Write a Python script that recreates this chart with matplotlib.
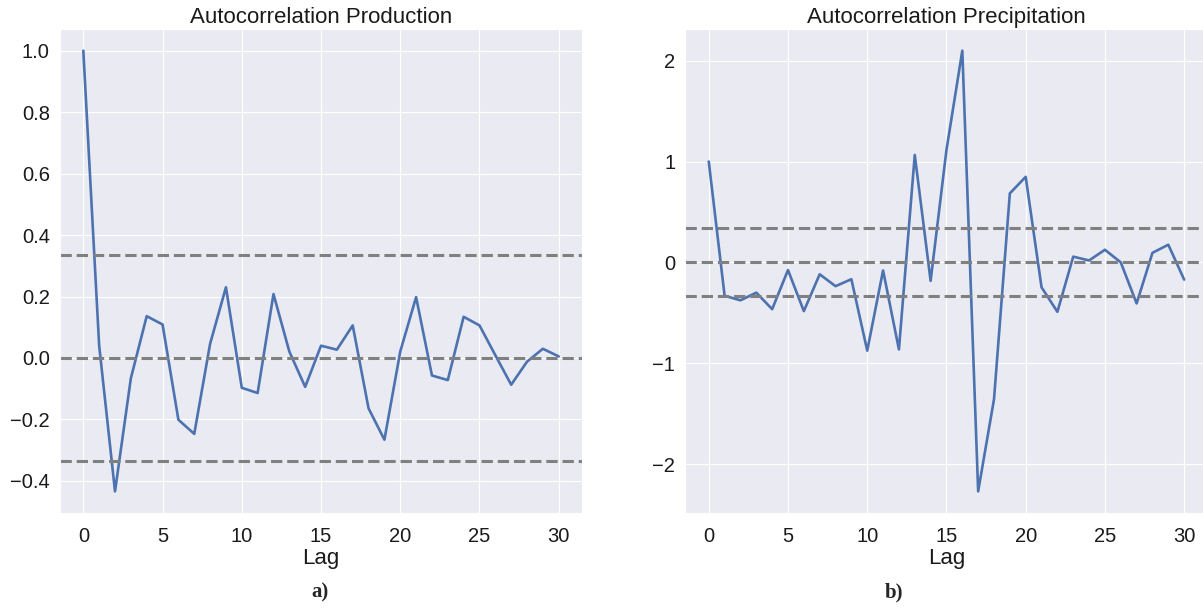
import matplotlib
matplotlib.use('Agg')
import matplotlib.pyplot as plt
import seaborn as sns
import numpy as np

# autocorrelation values, lags 0..30
lags = np.arange(31)
acf_production = [1.0, 0.04, -0.434, -0.066, 0.136, 0.109, -0.201, -0.247, 0.046, 0.23,
                  -0.097, -0.114, 0.208, 0.021, -0.094, 0.04, 0.027, 0.106, -0.164, -0.266,
                  0.021, 0.198, -0.057, -0.072, 0.134, 0.106, 0.009, -0.087, -0.012, 0.03,
                  0.005]
acf_precipitation = [1.0, -0.331, -0.376, -0.30, -0.464, -0.076, -0.483, -0.118, -0.236, -0.167,
                     -0.875, -0.08, -0.863, 1.065, -0.183, 1.114, 2.099, -2.27, -1.357, 0.684,
                     0.848, -0.247, -0.49, 0.057, 0.019, 0.125, 0.0, -0.407, 0.095, 0.175,
                     -0.171]
conf_level = 0.336   # 1.96 / sqrt(34)
titles = ['Autocorrelation Production', 'Autocorrelation Precipitation']
captions = ['a)', 'b)']

sns.set_style('darkgrid')
plt.rcParams['font.family'] = ['Liberation Sans', 'DejaVu Sans']

fig = plt.figure(figsize=(12.03, 6.09), dpi=100)
ax1 = fig.add_axes([0.0495, 0.157, 0.4347, 0.796])
ax2 = fig.add_axes([0.5694, 0.157, 0.4347, 0.796])

# ---------------------------------------------------------------------------------
def plot_acf(ax, values, title):
    ax.plot(lags, values, color='#4C72B0', lw=1.9)
    for y in (conf_level, 0.0, -conf_level):
        ax.axhline(y, color='grey', ls='--', lw=2.2)
    ax.set_title(title, fontsize=16, pad=4, color='#1a1a1a')
    ax.set_xlabel('Lag', fontsize=16, labelpad=1, color='#1a1a1a')
    ax.set_xticks(np.arange(0, 31, 5))
    ax.tick_params(axis='both', labelsize=14.5, colors='#1a1a1a', length=0)
    ax.tick_params(axis='x', pad=10)
    ax.tick_params(axis='y', pad=7)
    ax.set_xlim(-1.5, 31.5)
# ---------------------------------------------------------------------------------

plot_acf(ax1, acf_production, titles[0])
plot_acf(ax2, acf_precipitation, titles[1])
ax1.set_yticks(np.arange(-0.4, 1.01, 0.2))

fig.text(320 / 1203, 1 - 592 / 609, captions[0], ha='center', va='center',
         fontsize=15, fontweight='bold', family='Liberation Serif')
fig.text(894 / 1203, 1 - 592 / 609, captions[1], ha='center', va='center',
         fontsize=15, fontweight='bold', family='Liberation Serif')

fig.savefig('out.png', dpi=100, facecolor='white')
